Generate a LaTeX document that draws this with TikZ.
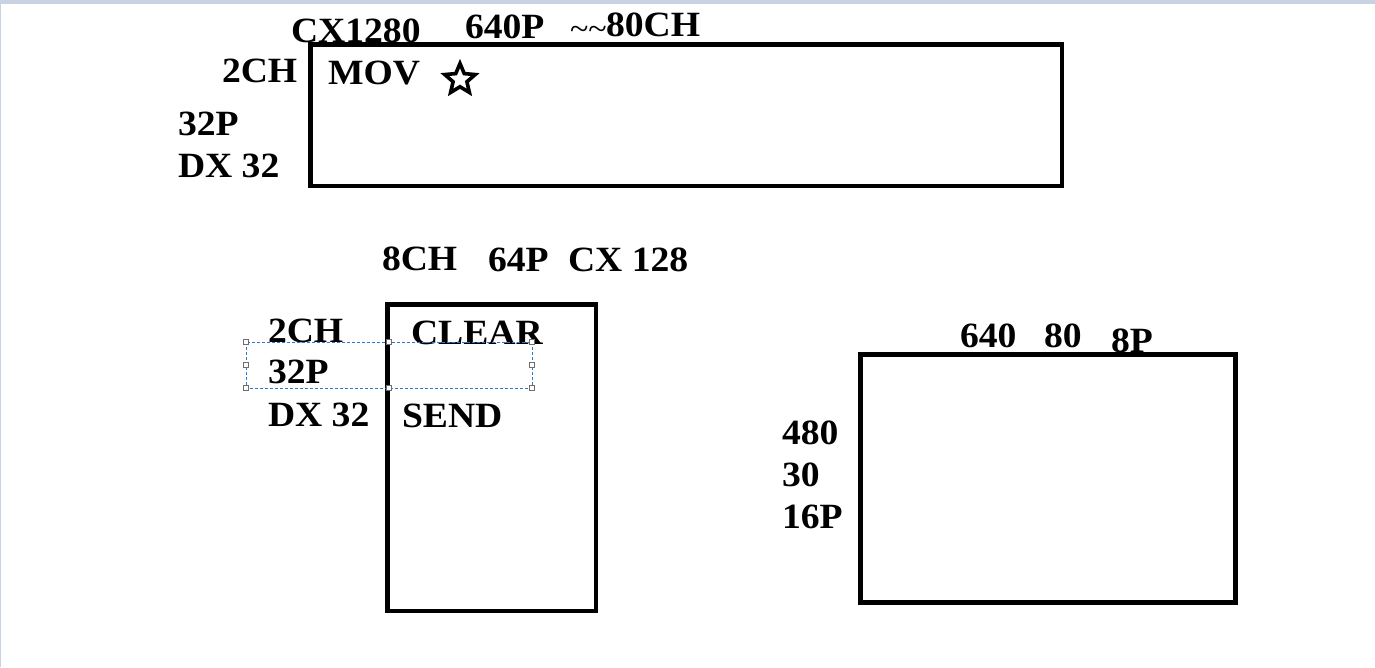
\documentclass[tikz,border=0pt]{standalone}
\usepackage{fontspec}
\setmainfont{Liberation Serif}[FakeStretch=1.06]
\usetikzlibrary{shapes.geometric}
\definecolor{framebar}{HTML}{C7D2E2}
\definecolor{selblue}{HTML}{2A7AC8}
\definecolor{handlegray}{HTML}{6E6E6E}
\tikzset{
  lbl/.style={anchor=base west, inner sep=0pt, outer sep=0pt, font=\fontsize{35.5pt}{40pt}\selectfont\bfseries, text=black},
  tildes/.style={anchor=base west, inner sep=0pt, outer sep=0pt, font=\fontsize{32pt}{36pt}\selectfont\mdseries, text=black},
  panel/.style={draw=black, line width=4.5pt},
  selbox/.style={draw=selblue, line width=0.8pt, dash pattern=on 3pt off 2pt},
  handle/.style={draw=handlegray, fill=white, line width=0.8pt, minimum size=4.5pt, inner sep=0pt, shape=rectangle},
  starmark/.style={draw=black, fill=white, line width=3.6pt, shape=star, star points=5, star point ratio=2.2, minimum size=32pt, inner sep=0pt}
}
\begin{document}
\begin{tikzpicture}[x=1pt,y=-1pt]
\useasboundingbox (0,0) rectangle (1375,667);
\fill[white] (0,0) rectangle (1375,667);
% window frame edges
\fill[framebar] (0,0) rectangle (1375,4);
\fill[framebar] (0,0) rectangle (1.3,667);

% ---- top panel labels
\node[lbl] (cx1280) at (291,42) {CX1280};
\node[lbl] (p640) at (465,38) {640P};
\node[tildes] (tl) at (570,39) {\textasciitilde\textasciitilde};
\node[lbl] (ch80) at (606,36) {80CH};
\node[lbl] (ch2a) at (222,82) {2CH};
\node[lbl] (p32a) at (178,135) {32P};
\node[lbl] (dx32a) at (178,177) {DX 32};
% top panel
\coordinate (t1) at (310.5,44.5);
\coordinate (t2) at (1062,186);
\draw[panel] (t1) rectangle (t2);
\node[lbl] (mov) at (328,84) {MOV};
\node[starmark] (star) at (460,79.5) {};

% ---- middle panel
\node[lbl] (ch8) at (382,270) {8CH};
\node[lbl] (p64) at (488,271) {64P};
\node[lbl] (cx128) at (568,271) {CX 128};
\coordinate (m1) at (387.5,304.5);
\coordinate (m2) at (596,611);
\draw[panel] (m1) rectangle (m2);
\node[lbl] (ch2b) at (268,342) {2CH};
\node[lbl] (clear) at (411,344) {CLEAR};
\node[lbl] (p32b) at (268,383) {32P};
\node[lbl] (dx32b) at (268,426) {DX 32};
\node[lbl] (send) at (402,427) {SEND};
% selection frame
\coordinate (s1) at (246,342);
\coordinate (s2) at (532,388);
\draw[selbox] (s1) rectangle (s2);
\foreach \hx/\hy [count=\i] in {246/342, 389/342, 532/342, 246/365, 532/365, 246/388, 389/388, 532/388}
  \node[handle] (h\i) at (\hx,\hy) {};

% ---- right panel
\node[lbl] (n640) at (960,347) {640};
\node[lbl] (n80) at (1044,347) {80};
\node[lbl] (p8) at (1111,352) {8P};
\coordinate (r1) at (860.5,354.5);
\coordinate (r2) at (1235.5,602.5);
\draw[panel] (r1) rectangle (r2);
\node[lbl] (n480) at (782,444) {480};
\node[lbl] (n30) at (782,486) {30};
\node[lbl] (p16) at (782,528) {16P};
\end{tikzpicture}
\end{document}
